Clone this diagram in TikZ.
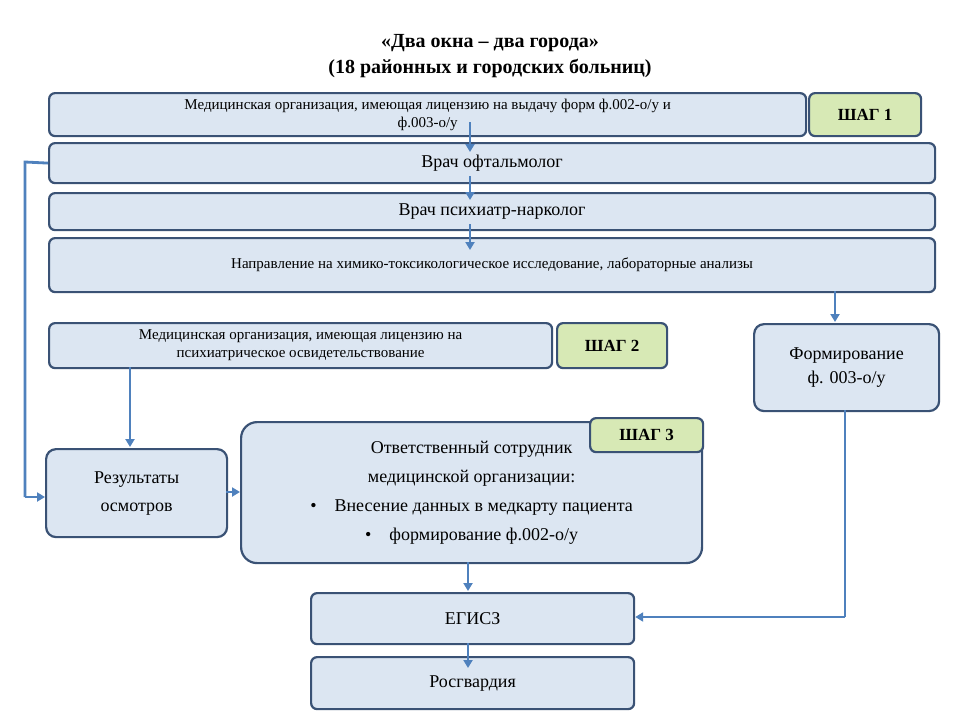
\documentclass[tikz,border=0pt]{standalone}
\usepackage{fontspec}
\setmainfont{Liberation Serif}
\usetikzlibrary{arrows.meta}
\definecolor{bfill}{HTML}{DCE6F2}
\definecolor{bdraw}{HTML}{3A5275}
\definecolor{gfill}{HTML}{D7E9B5}
\definecolor{arr}{HTML}{4F81BD}
\tikzset{
 box/.style={draw=bdraw,line width=2.2pt,fill=bfill,rounded corners=6pt,inner sep=0pt,anchor=north west,align=center},
 stepbox/.style={box,fill=gfill,font=\bfseries\fontsize{17}{20}\selectfont},
 con/.style={draw=arr,line width=2.8pt,-{Triangle[length=8pt,width=9pt]}},
 lin/.style={draw=arr,line width=2.8pt}
}
\begin{document}
\begin{tikzpicture}[x=1pt,y=-1pt]
\useasboundingbox (0,0) rectangle (960,720);
\fill[white] (0,0) rectangle (960,720);
\node[font=\bfseries\fontsize{20}{26}\selectfont,align=center] (title) at (490,56) {«Два окна – два города»\\(18 районных и городских больниц)};
\node[box,minimum width=757pt,minimum height=43pt,font=\fontsize{15}{18}\selectfont] (b1) at (48,92) {Медицинская организация, имеющая лицензию на выдачу форм ф.002-о/у и\\ф.003-о/у};
\node[stepbox,minimum width=112pt,minimum height=43pt] (s1) at (808,92) {ШАГ 1};
\node[box,minimum width=886pt,minimum height=40pt,font=\fontsize{18}{22}\selectfont] (b2) at (48,142) {Врач офтальмолог};
\node[box,minimum width=886pt,minimum height=37pt,font=\fontsize{18}{22}\selectfont] (b3) at (48,192) {Врач психиатр-нарколог};
\node[box,minimum width=886pt,minimum height=54pt,font=\fontsize{15}{18}\selectfont] (b4) at (48,237) {Направление на химико-токсикологическое исследование, лабораторные анализы};
\node[box,minimum width=503pt,minimum height=45pt,font=\fontsize{15}{18}\selectfont] (b5) at (48,322) {Медицинская организация, имеющая лицензию на\\психиатрическое освидетельствование};
\node[stepbox,minimum width=110pt,minimum height=45pt] (s2) at (556,322) {ШАГ 2};
\node[box,minimum width=185pt,minimum height=87pt,rounded corners=10pt,font=\fontsize{18}{24}\selectfont] (f3) at (753,323) {Формирование\\ф. 003-о/у};
\node[box,minimum width=181pt,minimum height=88pt,rounded corners=10pt,font=\fontsize{18}{28}\selectfont] (res) at (45,448) {Результаты\\осмотров};
\node[box,minimum width=461pt,minimum height=141pt,rounded corners=16pt,font=\fontsize{18}{29}\selectfont] (resp) at (240,421) {Ответственный сотрудник\\медицинской организации:\\•\quad Внесение данных в медкарту пациента\\•\quad формирование ф.002-о/у};
\node[stepbox,minimum width=113pt,minimum height=34pt] (s3) at (589,417) {ШАГ 3};
\node[box,minimum width=323pt,minimum height=51pt,font=\fontsize{18}{22}\selectfont] (eg) at (310,592) {ЕГИСЗ};
\node[box,minimum width=323pt,minimum height=52pt,font=\fontsize{18}{22}\selectfont] (rg) at (310,656) {Росгвардия};
\coordinate (l1) at (25,162);
\coordinate (l2) at (25,497);
\coordinate (r1) at (845,617);
\draw[con] (470,122) -- (470,152);
\draw[con] (470,176) -- (470,200);
\draw[con] (470,224) -- (470,250);
\draw[con] (835,291) -- (835,322);
\draw[lin] (b2.west) -- (l1) -- (l2);
\draw[con] (l2) -- (res.west |- l2);
\draw[con] (130,367) -- (130,447);
\draw[con] (226,492) -- (240,492);
\draw[con] (468,562) -- (468,591);
\draw[lin] (845,410) -- (r1);
\draw[con] (r1) -- (eg.east |- r1);
\draw[con] (468,643) -- (468,668);
\end{tikzpicture}
\end{document}
